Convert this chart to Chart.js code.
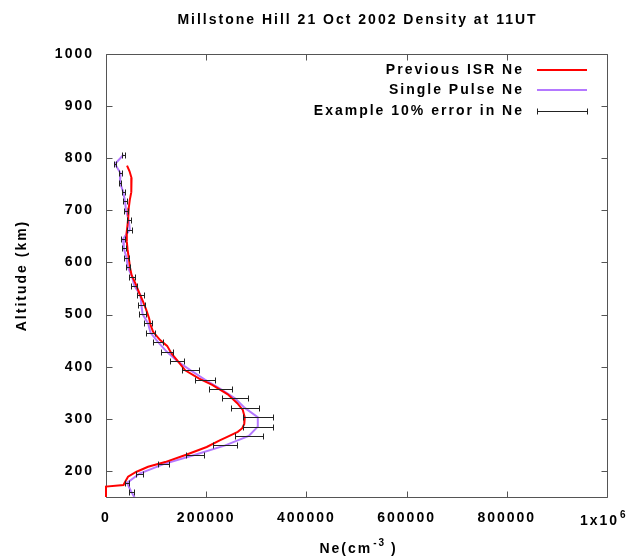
<!DOCTYPE html>
<html><head><meta charset="utf-8">
<script src="https://cdn.jsdelivr.net/npm/chart.js@4.4.1/dist/chart.umd.min.js"></script>
<style>html,body{margin:0;padding:0;background:#fff;}#wrap{width:637px;height:558px;}</style>
</head><body><div id="wrap"><canvas id="c" width="637" height="558"></canvas></div>
<script>
const titleText = 'Millstone Hill 21 Oct 2002 Density at 11UT';
const yAxisTitle = 'Altitude (km)';
const xAxisTitleMain = 'Ne(cm';
const xAxisTitleSup = '-3';
const xAxisTitleEnd = ' )';
const xTickValues = [0, 200000, 400000, 600000, 800000, 1000000];
const yTickValues = [200, 300, 400, 500, 600, 700, 800, 900, 1000];
const legendLabels = ['Previous ISR Ne', 'Single Pulse Ne', 'Example 10% error in Ne'];

const prevIsrAlt = [786,775,762,748,735,720,705,688,672,656,640,625,605,590,576,557,540,525,510,493,480,467,451,440,425,409,393,377,365,347,330,317,303,290,282,275,265,259,246,231,217,208,198,189,179,173,170,140];
const prevIsrNe = [42000,47000,51000,51000,50000,47500,45500,44500,43000,41000,41500,43000,46000,48000,51000,60000,67000,74000,80000,86000,89000,94000,108000,122000,131000,145000,158000,186000,212000,243000,262000,273000,277000,276000,272000,263000,241000,228000,201000,160000,118000,84000,60000,44000,38000,35000,0,0];

const singlePulseAlt = [807,789,771,753,735,717,699,681,663,645,627,609,591,573,555,537,519,501,483,465,447,429,411,393,375,357,339,321,303,285,267,249,231,213,195,177,159,141];
const singlePulseNe = [35000,18000,29000,28000,34500,38000,40000,45500,47500,34000,35500,41000,43500,52000,56500,69000,70500,73000,84000,89000,104000,121000,142000,169000,198000,229000,258000,277000,303000,303000,285000,238000,178000,115000,67000,42000,51000,62000];

const errorFraction = 0.10;

const FONT = "'Liberation Sans', Arial, sans-serif";
const RED = '#ff0000';
const PURPLE = 'rgb(180,120,255)';
const FRAME = '#555555';
const ERR = '#222222';

function pts(xs, ys) { return xs.map((v, i) => ({ x: v, y: ys[i] })); }

function setSpacing(chart) { try { chart.ctx.letterSpacing = '2px'; } catch (e) {} }

const decorPlugin = {
  id: 'decor',
  beforeUpdate(chart) { setSpacing(chart); },
  beforeLayout(chart) { setSpacing(chart); },
  beforeDraw(chart) { setSpacing(chart); },
  beforeDatasetsDraw(chart) {
    const { ctx, chartArea: a, scales } = chart;
    const xs = scales.x, ys = scales.y;
    ctx.save();
    ctx.strokeStyle = FRAME;
    ctx.lineWidth = 1;
    const L = Math.round(a.left) + 0.5, R = Math.round(a.right) + 0.5;
    const T = Math.round(a.top) + 0.5, B = Math.round(a.bottom) + 0.5;
    ctx.beginPath();
    ctx.moveTo(L, T); ctx.lineTo(R, T); ctx.lineTo(R, B); ctx.lineTo(L, B); ctx.closePath();
    const tl = 6;
    xTickValues.forEach(v => {
      const px = Math.round(xs.getPixelForValue(v)) + 0.5;
      ctx.moveTo(px, B); ctx.lineTo(px, B - tl);
      ctx.moveTo(px, T); ctx.lineTo(px, T + tl);
    });
    yTickValues.forEach(v => {
      const py = Math.round(ys.getPixelForValue(v)) + 0.5;
      ctx.moveTo(L, py); ctx.lineTo(L + tl, py);
      ctx.moveTo(R, py); ctx.lineTo(R - tl, py);
    });
    ctx.stroke();
    ctx.restore();
  },
  afterDatasetsDraw(chart) {
    const { ctx, chartArea: a, scales } = chart;
    const xs = scales.x, ys = scales.y;
    ctx.save();
    ctx.beginPath();
    ctx.rect(a.left, a.top, a.right - a.left, a.bottom - a.top);
    ctx.clip();
    ctx.strokeStyle = ERR;
    ctx.lineWidth = 1;
    ctx.beginPath();
    singlePulseNe.forEach((ne, i) => {
      const y = Math.round(ys.getPixelForValue(singlePulseAlt[i])) + 0.5;
      const x0 = Math.round(xs.getPixelForValue(ne * (1 - errorFraction))) + 0.5;
      const x1 = Math.round(xs.getPixelForValue(ne * (1 + errorFraction))) + 0.5;
      ctx.moveTo(x0, y); ctx.lineTo(x1, y);
      ctx.moveTo(x0, y - 3); ctx.lineTo(x0, y + 3);
      ctx.moveTo(x1, y - 3); ctx.lineTo(x1, y + 3);
    });
    ctx.stroke();
    ctx.restore();
  },
  afterDraw(chart) {
    const { ctx, chartArea: a, scales } = chart;
    const xs = scales.x;
    ctx.save();
    setSpacing(chart);
    ctx.fillStyle = '#000';
    ctx.font = 'bold 14px ' + FONT;
    ctx.textAlign = 'center';
    ctx.textBaseline = 'middle';
    ctx.fillText(titleText, (a.left + a.right) / 2 + 1, 20);
    ctx.save();
    ctx.translate(22, (a.top + a.bottom) / 2);
    ctx.rotate(-Math.PI / 2);
    ctx.fillText(yAxisTitle, 0, 0);
    ctx.restore();
    ctx.textAlign = 'left';
    ctx.textBaseline = 'alphabetic';
    const supFont = 'bold 10px ' + FONT;
    const w1 = ctx.measureText(xAxisTitleMain).width;
    ctx.font = supFont;
    const w2 = ctx.measureText(xAxisTitleSup).width;
    ctx.font = 'bold 14px ' + FONT;
    const w3 = ctx.measureText(xAxisTitleEnd).width;
    let x = (a.left + a.right) / 2 + 2 - (w1 + w2 + w3) / 2;
    const by = 553;
    ctx.fillText(xAxisTitleMain, x, by); x += w1;
    ctx.font = supFont; ctx.fillText(xAxisTitleSup, x + 1, by - 7); x += w2;
    ctx.font = 'bold 14px ' + FONT; ctx.fillText(xAxisTitleEnd, x, by);
    const p = xs.getPixelForValue(xTickValues[xTickValues.length - 1]);
    const ty = 525;
    ctx.fillText('1x10', p - 27, ty);
    ctx.font = supFont;
    ctx.fillText('6', p + 13, ty - 7);
    ctx.font = 'bold 14px ' + FONT;
    ctx.textAlign = 'right';
    ctx.textBaseline = 'middle';
    const tx = a.right - 83, lx0 = a.right - 70, lx1 = a.right - 20;
    const rows = [a.top + 16, a.top + 36, a.top + 57];
    legendLabels.forEach((lab, i) => ctx.fillText(lab, tx, rows[i]));
    ctx.lineWidth = 2;
    ctx.strokeStyle = RED;
    ctx.beginPath(); ctx.moveTo(lx0, rows[0]); ctx.lineTo(lx1, rows[0]); ctx.stroke();
    ctx.strokeStyle = PURPLE;
    ctx.beginPath(); ctx.moveTo(lx0, rows[1]); ctx.lineTo(lx1, rows[1]); ctx.stroke();
    ctx.lineWidth = 1;
    ctx.strokeStyle = ERR;
    const ey = Math.round(rows[2]) + 0.5;
    ctx.beginPath();
    ctx.moveTo(lx0 + 0.5, ey); ctx.lineTo(lx1 + 0.5, ey);
    ctx.moveTo(lx0 + 0.5, ey - 3); ctx.lineTo(lx0 + 0.5, ey + 3);
    ctx.moveTo(lx1 + 0.5, ey - 3); ctx.lineTo(lx1 + 0.5, ey + 3);
    ctx.stroke();
    ctx.restore();
  }
};

const tickFont = { family: FONT, size: 14, weight: 'bold' };

new Chart(document.getElementById('c'), {
  type: 'scatter',
  data: {
    datasets: [
      { label: legendLabels[0], data: pts(prevIsrNe, prevIsrAlt), showLine: true, borderColor: RED, backgroundColor: RED, borderWidth: 2, pointRadius: 0, tension: 0, clip: { left: 2, top: 0, right: 0, bottom: 0 } },
      { label: legendLabels[1], data: pts(singlePulseNe, singlePulseAlt), showLine: true, borderColor: PURPLE, backgroundColor: PURPLE, borderWidth: 2, pointRadius: 0, tension: 0, clip: { left: 0, top: 0, right: 0, bottom: 0 } }
    ]
  },
  options: {
    responsive: false,
    devicePixelRatio: 1,
    animation: false,
    events: [],
    layout: { padding: { top: 54, right: 30, left: 0, bottom: 0 } },
    plugins: { legend: { display: false }, title: { display: false }, tooltip: { enabled: false } },
    scales: {
      x: {
        type: 'linear', min: 0, max: 1000000,
        afterBuildTicks: s => { s.ticks = xTickValues.map(v => ({ value: v })); },
        afterFit: s => { s.height = 61; },
        grid: { display: false, drawTicks: false },
        border: { display: false },
        ticks: { padding: 13, color: '#000', font: tickFont, maxRotation: 0, autoSkip: false,
          callback: v => (v === 1000000 ? '' : String(v)) }
      },
      y: {
        type: 'linear', min: 150, max: 1000,
        afterBuildTicks: s => { s.ticks = yTickValues.map(v => ({ value: v })); },
        afterFit: s => { s.width = 106; },
        grid: { display: false, drawTicks: false },
        border: { display: false },
        ticks: { padding: 12, color: '#000', font: tickFont, autoSkip: false,
          callback: v => String(v) }
      }
    }
  },
  plugins: [decorPlugin]
});
</script>
</body></html>
